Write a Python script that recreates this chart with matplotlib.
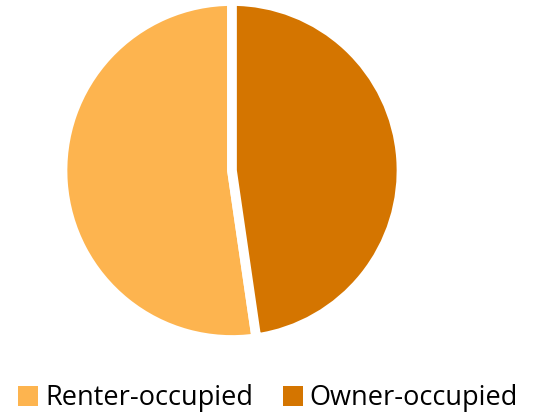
import matplotlib.pyplot as plt

labels = ["Renter-occupied", "Owner-occupied"]
shares = [52.3, 47.7]
colors = ["#FDB44F", "#D47500"]

fig = plt.figure(figsize=(5.36, 4.16), dpi=100)
ax = fig.add_axes([62.5 / 536, 76 / 416, 339 / 536, 339 / 416])

wedges, _ = ax.pie(shares, colors=colors, startangle=90, counterclock=True,
                   radius=1, wedgeprops=dict(edgecolor="white", linewidth=7))
ax.set_xlim(-1, 1)
ax.set_ylim(-1, 1)
ax.set_aspect("equal")
ax.axis("off")

leg = fig.legend(wedges, labels, loc="lower center", bbox_to_anchor=(0.5, -0.05),
                 ncol=2, frameon=False, handlelength=0.75, handleheight=0.75,
                 handletextpad=0.25, columnspacing=1.1,
                 prop=dict(family="Open Sans", size=19.5))
for h in leg.legend_handles:
    h.set_linewidth(0)

fig.savefig("out.png", dpi=100)
